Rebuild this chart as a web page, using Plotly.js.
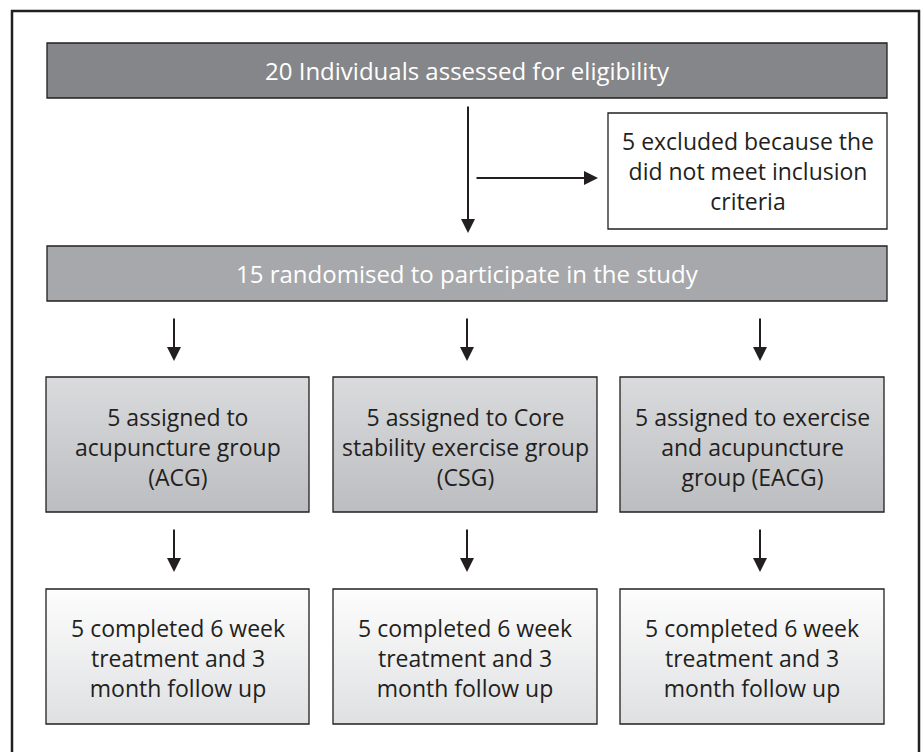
<!DOCTYPE html>
<html>
<head>
<meta charset="utf-8">
<script src="https://cdn.plot.ly/plotly-3.0.1.min.js"></script>
<style>html,body{margin:0;padding:0;background:#fff;}#chart{width:923px;height:752px;}</style>
</head>
<body>
<div id="chart"></div>
<script>
// ---- content (text of each box) ----
const topLabel = "20 Individuals assessed for eligibility";
const excludedLabel = ["5 excluded because the", "did not meet inclusion", "criteria"];
const randomisedLabel = "15 randomised to participate in the study";
const groupLabels = [
  ["5 assigned to", "acupuncture group", "(ACG)"],
  ["5 assigned to Core", "stability exercise group", "(CSG)"],
  ["5 assigned to exercise", "and acupuncture", "group (EACG)"]
];
const completedLabels = [
  ["5 completed 6 week", "treatment and 3", "month follow up"],
  ["5 completed 6 week", "treatment and 3", "month follow up"],
  ["5 completed 6 week", "treatment and 3", "month follow up"]
];

// ---- geometry (pixel layout, y downward) ----
const G = {
  frame: [12, 11, 919, 762],
  top: [47, 43, 887, 98],
  excl: [608, 113, 887, 229],
  rand: [47, 246, 887, 301],
  colX: [[46, 309], [333, 597], [620, 884]],
  arrowX: [174, 467, 760],
  group: [377, 512],
  done: [589, 724],
  mainArrow: {x: 468, y0: 105, y1: 233},
  sideArrow: {y: 178, x0: 475, x1: 598},
  arr1: [317, 361],
  arr2: [528, 572]
};
const INK = '#231f20';
const FONT = '"Open Sans", "Noto Sans", sans-serif';

const traces = [];
const shapes = [];
const annotations = [];

function box(b, fill, grad) {
  const [x0, y0, x1, y1] = b;
  if (grad) {
    traces.push({
      x: [x0, x1, x1, x0, x0], y: [y0, y0, y1, y1, y0],
      mode: 'lines', fill: 'toself', line: {width: 0},
      fillgradient: {type: 'vertical', colorscale: [[0, grad[0]], [1, grad[1]]]},
      hoverinfo: 'skip', showlegend: false
    });
    shapes.push({type: 'rect', xref: 'x', yref: 'y', x0, y0, x1, y1, line: {color: INK, width: 1.3}, fillcolor: 'rgba(0,0,0,0)'});
  } else {
    shapes.push({type: 'rect', xref: 'x', yref: 'y', x0, y0, x1, y1, line: {color: INK, width: 1.3}, fillcolor: fill});
  }
}
function label(lines, b, color, dy, size) {
  annotations.push({
    xref: 'x', yref: 'y', x: (b[0] + b[2]) / 2, y: (b[1] + b[3]) / 2 + (dy || 0),
    text: lines.join('<br>'), showarrow: false, align: 'center',
    xanchor: 'center', yanchor: 'middle',
    font: {family: FONT, size: size, color: color}
  });
}
function arrow(x0, y0, x1, y1) {
  annotations.push({
    xref: 'x', yref: 'y', axref: 'x', ayref: 'y',
    x: x1, y: y1, ax: x0, ay: y0, text: '', showarrow: true,
    arrowhead: 2, arrowsize: 1.4, arrowwidth: 2, arrowcolor: INK, standoff: 0
  });
}

// frame
shapes.push({type: 'rect', xref: 'x', yref: 'y', x0: G.frame[0], y0: G.frame[1], x1: G.frame[2], y1: G.frame[3], line: {color: INK, width: 2.5}, fillcolor: 'rgba(0,0,0,0)'});

box(G.top, '#858689');
label([topLabel], G.top, '#ffffff', 0, 24);
box(G.excl, '#ffffff');
label(excludedLabel, G.excl, INK, 0, 23);
box(G.rand, '#a7a8ab');
label([randomisedLabel], G.rand, '#ffffff', 0, 24);

arrow(G.mainArrow.x, G.mainArrow.y0, G.mainArrow.x, G.mainArrow.y1);
arrow(G.sideArrow.x0, G.sideArrow.y, G.sideArrow.x1, G.sideArrow.y);

groupLabels.forEach((lines, i) => {
  const [x0, x1] = G.colX[i];
  const gb = [x0, G.group[0], x1, G.group[1]];
  box(gb, null, ['#bcbdc0', '#dadbdd']);
  label(lines, gb, INK, 2, 23);
  const db = [x0, G.done[0], x1, G.done[1]];
  box(db, null, ['#dfe0e2', '#fdfdfd']);
  label(completedLabels[i], db, INK, 1, 23);
  arrow(G.arrowX[i], G.arr1[0], G.arrowX[i], G.arr1[1]);
  arrow(G.arrowX[i], G.arr2[0], G.arrowX[i], G.arr2[1]);
});

const layout = {
  width: 923, height: 752,
  margin: {l: 0, r: 0, t: 0, b: 0, pad: 0},
  paper_bgcolor: '#ffffff', plot_bgcolor: '#ffffff',
  xaxis: {range: [0, 923], visible: false, fixedrange: true},
  yaxis: {range: [752, 0], visible: false, fixedrange: true},
  shapes: shapes, annotations: annotations, showlegend: false
};
Plotly.newPlot('chart', traces, layout, {displayModeBar: false, staticPlot: true});
</script>
</body>
</html>
